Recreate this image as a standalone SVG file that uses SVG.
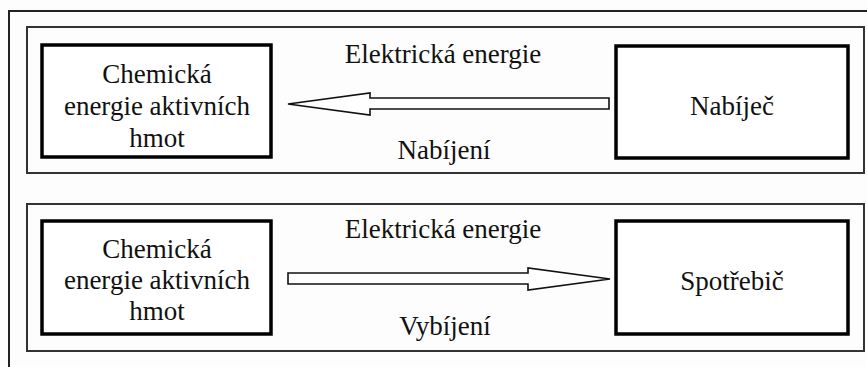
<svg xmlns="http://www.w3.org/2000/svg" width="867" height="367" viewBox="0 0 867 367" font-family="'Liberation Serif', 'DejaVu Serif', serif">
  <style>
    .frame { fill: none; stroke: #222; stroke-width: 2; }
    .panel { fill: none; stroke: #333; stroke-width: 2; }
    .box { fill: #fff; stroke: #000; stroke-width: 3.5; }
    .arrow { fill: #fff; stroke: #111; stroke-width: 1.6; stroke-linejoin: miter; }
    .lbl { font-size: 27px; fill: #111; text-anchor: middle; }
  </style>
  <rect width="867" height="367" fill="#fdfdfd"/>

  <!-- outer frame, running off the right and bottom edges -->
  <rect class="frame" x="9" y="11" width="880" height="380"/>

  <!-- charging panel -->
  <g id="panel-charging">
    <rect class="panel" x="27" y="27" width="837" height="146"/>
    <text class="lbl" x="443" y="63">Elektrická energie</text>
    <text class="lbl" x="444" y="159">Nabíjení</text>
  </g>
  <g id="chem-top">
    <rect class="box" x="42" y="45" width="229" height="112"/>
    <text class="lbl" x="157" y="83">Chemická</text>
    <text class="lbl" x="157" y="115">energie aktivních</text>
    <text class="lbl" x="157" y="147">hmot</text>
  </g>
  <g id="charger">
    <rect class="box" x="616" y="46" width="232" height="112"/>
    <text class="lbl" x="732" y="115">Nabíječ</text>
  </g>

  <!-- discharging panel -->
  <g id="panel-discharging">
    <rect class="panel" x="27" y="204" width="837" height="147"/>
    <text class="lbl" x="443" y="238">Elektrická energie</text>
    <text class="lbl" x="445" y="335">Vybíjení</text>
  </g>
  <g id="chem-bottom">
    <rect class="box" x="42" y="221" width="229" height="113"/>
    <text class="lbl" x="157" y="258">Chemická</text>
    <text class="lbl" x="157" y="289">energie aktivních</text>
    <text class="lbl" x="157" y="320">hmot</text>
  </g>
  <g id="consumer">
    <rect class="box" x="616" y="221" width="232" height="113"/>
    <text class="lbl" x="732" y="290">Spotřebič</text>
  </g>

  <!-- block arrows -->
  <g id="connectors">
    <polygon class="arrow" points="288,104 370,93 370,98 609,98 609,109 370,109 370,115"/>
    <polygon class="arrow" points="288,273 528,273 528,268 610,279 528,290 528,284 288,284"/>
  </g>
</svg>
